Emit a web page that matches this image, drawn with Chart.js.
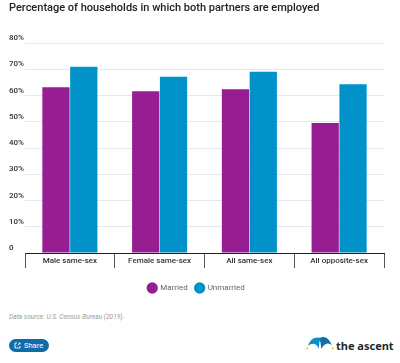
<!DOCTYPE html>
<html>
<head>
<meta charset="utf-8">
<script src="https://cdn.jsdelivr.net/npm/chart.js@4"></script>
<style>
  html, body { margin: 0; padding: 0; background: #fff; }
  #wrap { position: relative; width: 400px; height: 363px; overflow: hidden; font-family: Roboto, sans-serif; }
  #chart { position: absolute; left: 0; top: 0; }
  #source { position: absolute; left: 9px; top: 313px; font-size: 6.6px; font-style: italic; color: #9a9a9a; }
  #share { position: absolute; left: 9px; top: 339px; width: 40px; height: 13px; border-radius: 7px; background: #0f6cab; color: #fff; font-size: 7.5px; line-height: 13px; }
  #share span { position: absolute; left: 15px; }
  #share svg { position: absolute; left: 5px; top: 3px; }
  #logo { position: absolute; left: 306px; top: 336px; }
  #brand { position: absolute; left: 336px; top: 338px; font-size: 11px; font-weight: 700; color: #1f2a30; font-family: "Noto Sans", sans-serif; }
</style>
</head>
<body>
<div id="wrap">
  <canvas id="chart" width="400" height="308"></canvas>
  <div id="source">Data source: U.S. Census Bureau (2019).</div>
  <div id="share">
    <svg width="7" height="7" viewBox="0 0 7 7"><path d="M3 1H1v5h5V4M3.5 3.5L6 1M4.5 1H6v1.5" fill="none" stroke="#fff" stroke-width="0.9"/></svg>
    <span>Share</span>
  </div>
  <svg id="logo" width="28" height="14" viewBox="0 0 28 14">
    <path d="M2 10C4 3 9 0 15 2C13 5 13 9 13 13C11 8 7 6 2 10Z" fill="#0d8ec4"/>
    <path d="M13 3C17 -1 23 1 26 10C23 6 19 7 15 13C15 9 15 6 13 3Z" fill="#0f6fa8"/>
    <circle cx="1.2" cy="12.5" r="1" fill="#f2b632"/>
    <circle cx="26.8" cy="12.5" r="1" fill="#f2b632"/>
  </svg>
  <div id="brand">the ascent</div>
</div>
<script>
const categories = ["Male same-sex", "Female same-sex", "All same-sex", "All opposite-sex"];
const married = [63.2, 61.7, 62.4, 49.6];
const unmarried = [71, 67.2, 69.1, 64.3];
const yTicks = [0, 10, 20, 30, 40, 50, 60, 70, 80];

// two-line tick label lifts the text above its gridline
const yLabel = v => [v === 0 ? "0" : `${v}%`, ""];

new Chart(document.getElementById("chart").getContext("2d"), {
  type: "bar",
  data: {
    labels: categories,
    datasets: [
      { label: "Married", data: married, backgroundColor: "#961d92" },
      { label: "Unmarried", data: unmarried, backgroundColor: "#0192c9" },
    ],
  },
  options: {
    responsive: false,
    animation: false,
    layout: { padding: { left: 9, right: 16, top: 2, bottom: 6 } },
    datasets: { bar: { categoryPercentage: 0.62, barPercentage: 0.98 } },
    plugins: {
      tooltip: { enabled: false },
      title: {
        display: true,
        text: "Percentage of households in which both partners are employed",
        align: "start",
        color: "#222",
        font: { family: "Roboto", size: 11, weight: "500" },
        padding: { top: 0, bottom: 28 },
      },
      legend: {
        position: "bottom",
        labels: {
          usePointStyle: true,
          pointStyle: "circle",
          boxWidth: 8,
          boxHeight: 8,
          color: "#666",
          font: { family: "Roboto", size: 8 },
          padding: 8,
        },
      },
    },
    scales: {
      x: {
        grid: { offset: true, drawOnChartArea: false, drawTicks: true, tickLength: 15, color: "#555" },
        border: { color: "#222", width: 1 },
        afterFit: s => { s.height = 23; },
        ticks: {
          padding: -12,
          maxRotation: 0,
          color: "#333",
          font: { family: "Roboto", size: 8, weight: "500" },
        },
      },
      y: {
        min: 0,
        max: 80,
        afterBuildTicks: s => { s.ticks = yTicks.map(value => ({ value })); },
        afterFit: s => { s.width = 16; },
        grid: { drawTicks: false, color: "#e4e7ec" },
        border: { display: false },
        ticks: {
          callback: yLabel,
          crossAlign: "far",
          color: "#333",
          font: { family: "Roboto", size: 8, weight: "500", lineHeight: 1.25 },
        },
      },
    },
  },
});
</script>
</body>
</html>
